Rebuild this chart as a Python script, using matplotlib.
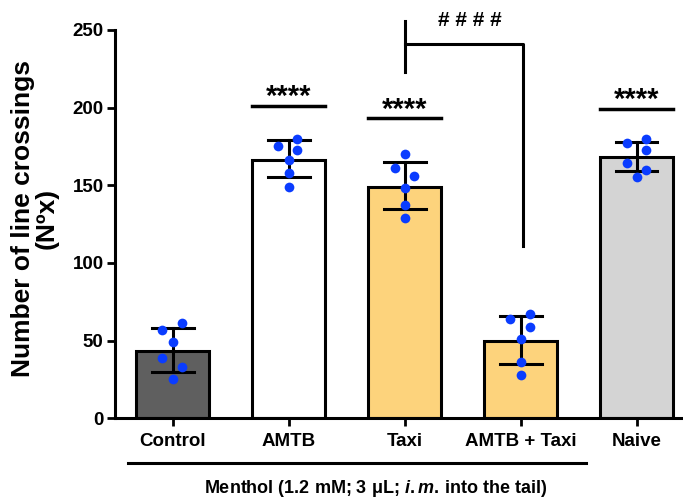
import numpy as np
import matplotlib
matplotlib.use("Agg")
from matplotlib import pyplot as plt

plt.rcParams['font.family'] = ['Liberation Sans', 'DejaVu Sans']
plt.rcParams['font.weight'] = 'bold'
plt.rcParams['axes.labelweight'] = 'bold'
plt.rcParams['mathtext.fontset'] = 'custom'
plt.rcParams['mathtext.it'] = 'Liberation Sans:bold:italic'
plt.rcParams['mathtext.rm'] = 'Liberation Sans:bold'

groups = ["Control", "AMTB", "Taxi", "AMTB + Taxi", "Naive"]
means = [43, 166, 149, 50, 168]
sd_high = [58, 179, 165, 66, 178]
sd_low = [30, 155, 135, 35, 159]
points = [
    [57, 61, 49, 39, 33, 25],
    [175, 180, 173, 166, 158, 149],
    [170, 161, 156, 148, 137, 129],
    [64, 67, 59, 51, 36, 28],
    [177, 180, 173, 164, 160, 155],
]
# horizontal jitter of the dots as seen in the figure
offsets = [
    [-0.09, 0.08, 0.0, -0.09, 0.08, 0.0],
    [-0.09, 0.07, 0.07, 0.0, 0.0, 0.0],
    [0.0, -0.08, 0.08, 0.0, 0.0, 0.0],
    [-0.09, 0.08, 0.08, 0.0, 0.0, 0.0],
    [-0.08, 0.08, 0.08, -0.08, 0.08, 0.0],
]
colors = ["#5f5f5f", "#ffffff", "#fdd37c", "#fdd37c", "#d4d4d4"]
star_lines = {1: 201, 2: 193, 4: 199}

fig = plt.figure(figsize=(6.83, 4.99), dpi=100)
ax = fig.add_axes([0.168, 0.162, 0.832, 0.778])

x = np.arange(len(groups))
w = 0.63
ax.bar(x, means, width=w, color=colors, edgecolor="black", linewidth=2.2, zorder=2)
for i in x:
    ax.plot([i, i], [sd_low[i], sd_high[i]], color="black", lw=2.2, zorder=3)
    ax.plot([i - 0.18, i + 0.18], [sd_high[i]] * 2, color="black", lw=2.2, zorder=3)
    ax.plot([i - 0.18, i + 0.18], [sd_low[i]] * 2, color="black", lw=2.2, zorder=3)
    ax.plot(i + np.array(offsets[i]), points[i], "o", color="#0a3cff",
            markersize=7, markeredgewidth=0, zorder=4)

for i, yv in star_lines.items():
    ax.plot([i - w / 2, i + w / 2], [yv, yv], color="black", lw=2.5, clip_on=False)
    ax.text(i, yv + 0.5, "****", ha="center", va="baseline", fontsize=21)

# #### bracket between Taxi and AMTB + Taxi
ax.plot([2, 2], [223, 256], color="black", lw=2.2, clip_on=False)
ax.plot([2, 3.02, 3.02], [241, 241, 111], color="black", lw=2.2, clip_on=False)
ax.text(2.56, 252.5, "# # # #", ha="center", va="baseline", fontsize=15)

ax.set_xlim(-0.5, 4.4)
ax.set_ylim(0, 250)
ax.set_yticks([0, 50, 100, 150, 200, 250])
ax.set_xticks(x)
ax.set_xticklabels(groups, fontsize=13.5)
ax.tick_params(axis="y", labelsize=13.5, width=2, length=6, pad=2)
ax.tick_params(axis="x", width=2, length=6, pad=5)
ax.spines["top"].set_visible(False)
ax.spines["right"].set_visible(False)
ax.spines["left"].set_linewidth(2.2)
ax.spines["bottom"].set_linewidth(2.2)
ax.set_ylabel("Number of line crossings\n(Nºx)", fontsize=19, linespacing=0.95)
ax.yaxis.set_label_coords(-0.099, 0.515)

ax.plot([-0.39, 3.56], [-29, -29], color="black", lw=2.2, clip_on=False)
ax.text(1.75, -48.5, r"Menthol (1.2 mM; 3 μL; $\mathit{i.m.}\,$into the tail)",
        ha="center", va="baseline", fontsize=13)

fig.savefig("out.png", dpi=100)
